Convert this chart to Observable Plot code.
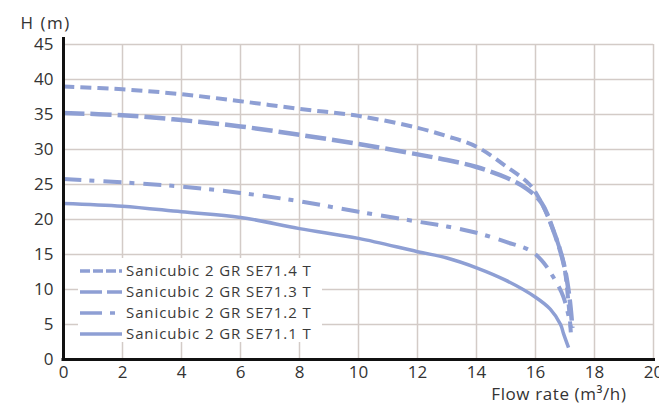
<!DOCTYPE html>
<html><head><meta charset="utf-8">
<script src="https://cdn.jsdelivr.net/npm/d3@7"></script>
<script src="https://cdn.jsdelivr.net/npm/@observablehq/plot@0.6"></script>
<style>
body{margin:0;background:#fff;overflow:hidden;font-family:"Open Sans",sans-serif;}
#wrap{position:relative;width:659px;height:410px;overflow:hidden;}
#legend{position:absolute;left:78px;top:258px;width:244px;height:84px;background:#fff;}
.row{position:absolute;left:0;height:21px;line-height:21px;display:flex;align-items:center;font-size:15px;letter-spacing:0.9px;color:#3a3a3a;white-space:nowrap;}
.row span{display:inline-block;height:21px;line-height:21px;}
.row svg{margin-left:2px;margin-right:4px;}
</style></head><body>
<div id="wrap"><div id="chart"></div><div id="legend"></div></div>
<script>
// ---- data ----
const seriesNames = ["Sanicubic 2 GR SE71.4 T","Sanicubic 2 GR SE71.3 T","Sanicubic 2 GR SE71.2 T","Sanicubic 2 GR SE71.1 T"];
const flow714 = [0, 2, 4, 6, 8, 10, 12, 13, 14, 15, 15.8, 16.2, 16.6, 16.95, 17.1, 17.2];
const head714 = [39.0, 38.6, 37.9, 36.9, 35.8, 34.8, 33.1, 31.9, 30.4, 27.6, 25.0, 22.4, 18.5, 13.8, 8.9, 3.7];
const flow713 = [0, 2, 4, 6, 8, 10, 12, 13, 14, 15, 15.7, 16.2, 16.6, 16.95, 17.15, 17.25];
const head713 = [35.2, 34.9, 34.2, 33.3, 32.1, 30.8, 29.3, 28.5, 27.5, 26.0, 24.4, 22.4, 18.5, 13.8, 8.9, 4.5];
const flow712 = [0, 2, 4, 6, 8, 10, 12, 13, 14, 15, 15.8, 16.2, 16.6, 16.95, 17.2];
const head712 = [25.8, 25.3, 24.7, 23.8, 22.6, 21.1, 19.7, 19.0, 18.1, 16.8, 15.6, 14.2, 11.8, 8.9, 4.6];
const flow711 = [0, 2, 4, 6, 8, 10, 12, 13, 14, 15, 16, 16.5, 16.85, 16.95, 17.12];
const head711 = [22.3, 21.9, 21.1, 20.3, 18.7, 17.3, 15.4, 14.5, 13.1, 11.3, 8.9, 7.2, 5.0, 3.7, 1.7];
const xTicks = [0, 2, 4, 6, 8, 10, 12, 14, 16, 18, 20];
const yTicks = [0, 5, 10, 15, 20, 25, 30, 35, 40, 45];
const xTitle = "Flow rate (m³/h)";
const yTitle = "H (m)";

// ---- styles ----
const lineColor = "#8e9fd4";
const styles = [
  {dash: "11,6", width: 4, legendDash: "10,3"},
  {dash: "21,6", width: 4.5, legendDash: "22,5"},
  {dash: "18,8,5,9", width: 4, legendDash: "22,8,5,20"},
  {dash: null, width: 3.5, legendDash: null}
];
const flows = [flow714, flow713, flow712, flow711];
const heads = [head714, head713, head712, head711];
const tables = flows.map((f, i) => f.map((x, j) => ({x, y: heads[i][j]})));

const chart = Plot.plot({
  width: 659,
  height: 410,
  marginLeft: 63,
  marginRight: 6,
  marginTop: 44,
  marginBottom: 51,
  style: {fontFamily: "'Open Sans', sans-serif", color: "#333", background: "#fff", overflow: "visible"},
  x: {domain: [0, 20]},
  y: {domain: [0, 45]},
  marks: [
    Plot.gridX(xTicks, {stroke: "#d3cbc7", strokeOpacity: 1, strokeWidth: 1.5}),
    Plot.gridY(yTicks, {stroke: "#d3cbc7", strokeOpacity: 1, strokeWidth: 1.5}),
    Plot.axisX({ticks: xTicks, tickSize: 0, tickPadding: 6, fontSize: 17, label: null}),
    Plot.axisY({ticks: yTicks, tickSize: 0, tickPadding: 10, fontSize: 17, label: null}),
    ...tables.map((t, i) => Plot.line(t, {x: "x", y: "y", curve: "catmull-rom", stroke: lineColor,
      strokeWidth: styles[i].width, strokeDasharray: styles[i].dash, strokeLinecap: "butt"})),
    Plot.ruleX([0], {stroke: "#111", strokeWidth: 3, insetTop: -7}),
    Plot.ruleY([0], {stroke: "#111", strokeWidth: 3, insetLeft: -1.5, insetRight: -2}),
    Plot.text([yTitle], {frameAnchor: "top-left", dx: -43, dy: -28, textAnchor: "start", fontSize: 17, fill: "#333"}),
    Plot.text([xTitle], {frameAnchor: "bottom-right", dx: -27, dy: 40, textAnchor: "end", fontSize: 17, fill: "#333"})
  ]
});
document.getElementById("chart").appendChild(chart);
chart.querySelectorAll("text").forEach(t => {
  if (t.textContent === yTitle) t.style.letterSpacing = "1.5px";
  if (t.textContent === xTitle) t.style.letterSpacing = "0.6px";
});

// ---- legend ----
const legend = document.getElementById("legend");
seriesNames.forEach((name, i) => {
  const row = document.createElement("div");
  row.className = "row";
  row.style.top = (2 + i * 21) + "px";
  const ns = "http://www.w3.org/2000/svg";
  const svg = document.createElementNS(ns, "svg");
  svg.setAttribute("width", 42); svg.setAttribute("height", 10);
  const ln = document.createElementNS(ns, "line");
  ln.setAttribute("x1", 0); ln.setAttribute("x2", 42);
  ln.setAttribute("y1", 5); ln.setAttribute("y2", 5);
  ln.setAttribute("stroke", lineColor);
  ln.setAttribute("stroke-width", 3.5);
  if (styles[i].legendDash) ln.setAttribute("stroke-dasharray", styles[i].legendDash);
  svg.appendChild(ln);
  row.appendChild(svg);
  const span = document.createElement("span");
  span.textContent = name;
  row.appendChild(span);
  legend.appendChild(row);
});
</script>
</body></html>
